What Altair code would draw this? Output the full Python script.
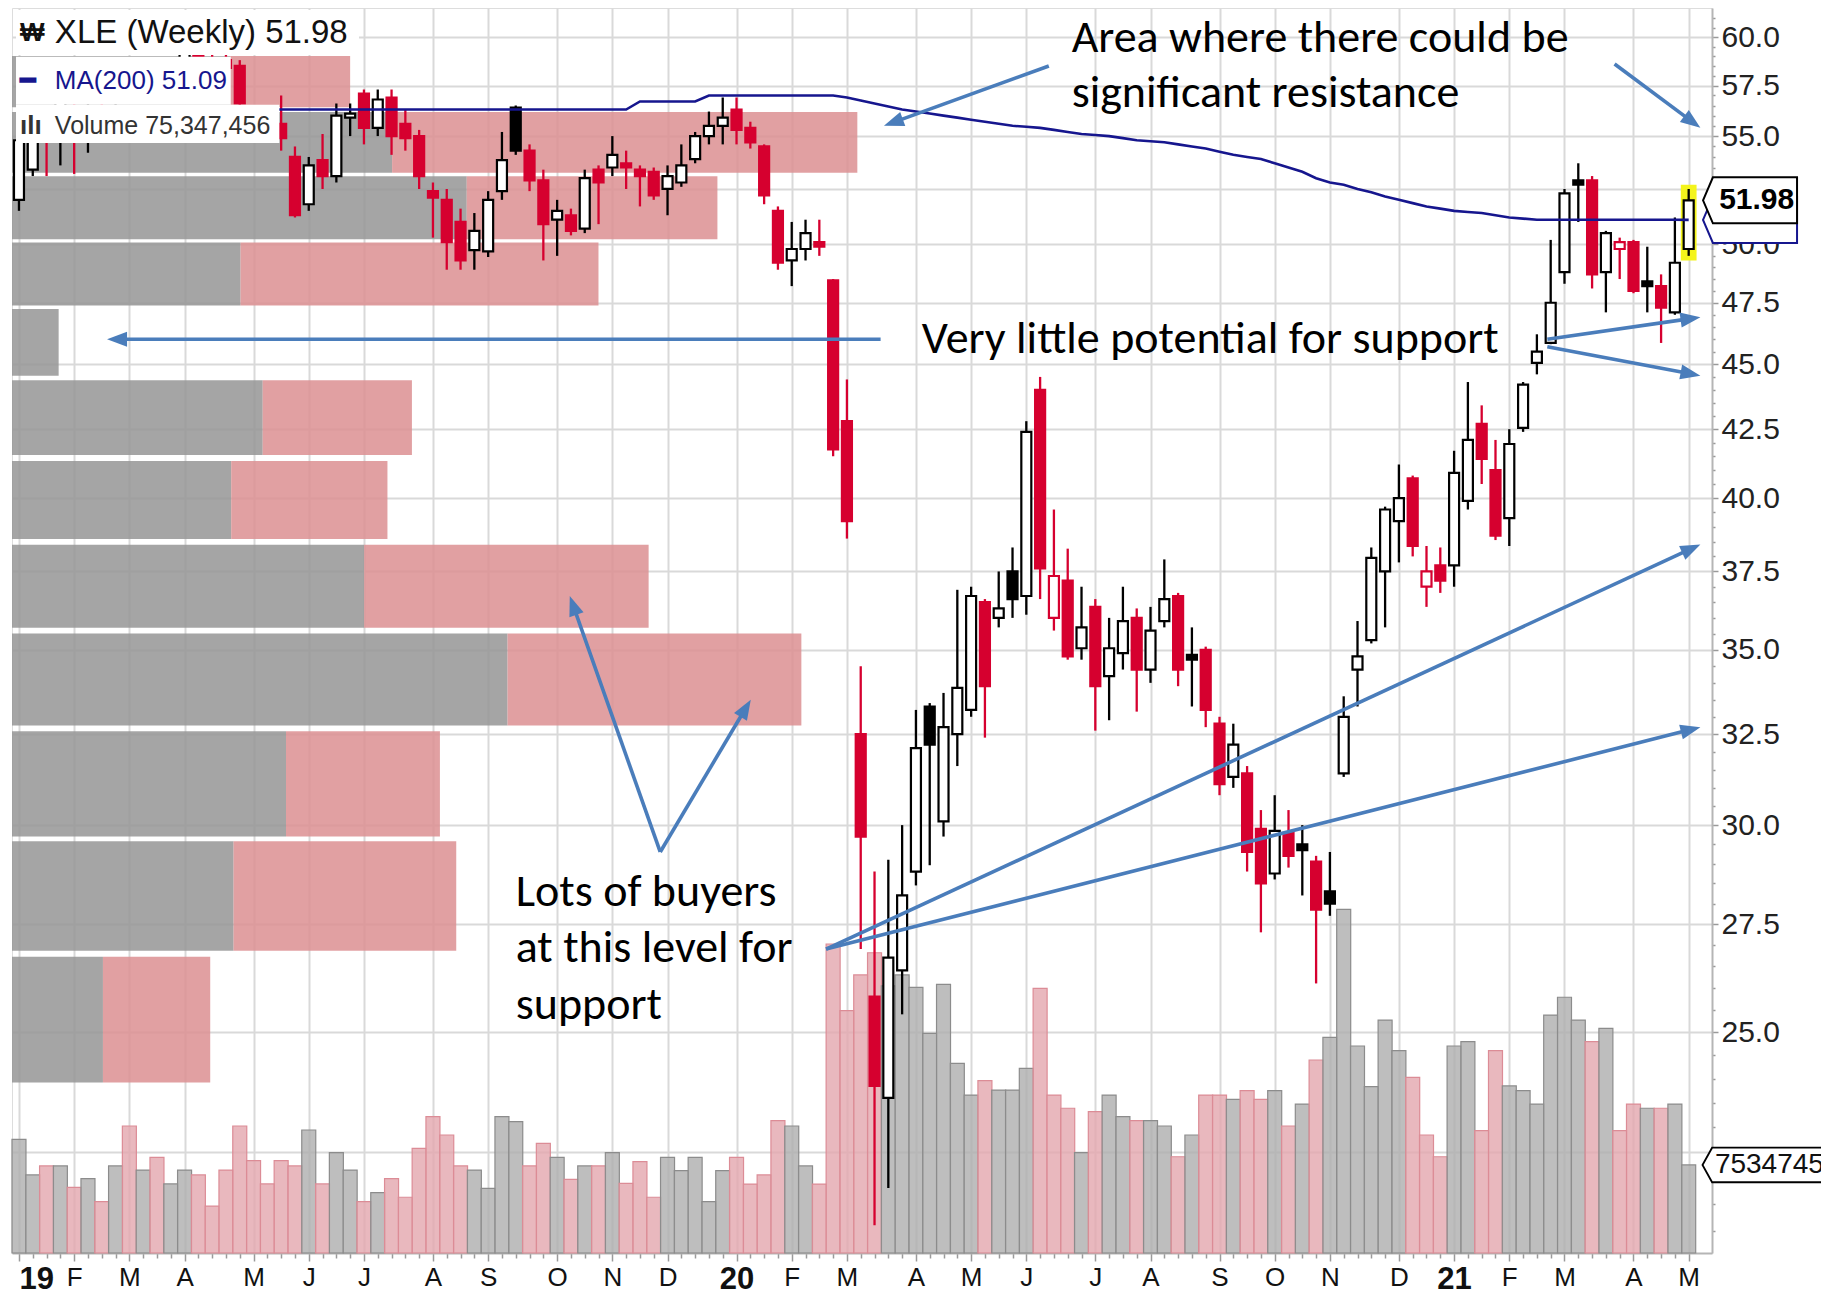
import math
import altair as alt
import pandas as pd

# ---------------- weekly XLE candles (week starting Monday) ----------------
FIRST_WEEK = "2019-01-07"
opens = [52.0, 53.4, 56.2, 55.4, 57.5, 56.8, 57.4, 56.9, 58.4, 57.2,
         58.0, 57.3, 58.4, 59.3, 58.9, 58.8, 58.5, 56.4, 55.6, 55.6,
         54.0, 51.8, 53.85, 53.1, 55.9, 57.1, 55.4, 56.9, 55.6, 55.0,
         52.4, 52.0, 51.0, 49.75, 49.7, 52.4, 56.4, 54.3, 52.9, 51.1,
         51.3, 50.7, 53.4, 53.5, 53.7, 53.4, 53.3, 52.5, 52.8, 53.9,
         55.0, 55.5, 56.3, 55.4, 54.5, 51.5, 49.3, 49.8, 50.1, 48.45,
         42.8, 32.5, 25.8, 23.6, 26.4, 28.8, 33.3, 30.1, 32.5, 33.2,
         36.5, 36.0, 37.5, 36.7, 44.0, 36.0, 37.2, 35.05, 36.35, 34.2,
         34.9, 36.0, 34.4, 35.9, 36.7, 34.85, 35.0, 32.8, 31.3, 31.4,
         29.9, 28.75, 29.8, 29.5, 29.05, 28.3, 31.4, 34.4, 35.3, 37.5,
         39.2, 40.7, 37.0, 37.7, 37.7, 39.9, 42.7, 41.0, 39.3, 42.55,
         45.05, 45.85, 48.8, 52.9, 52.9, 48.8, 49.8, 50.1, 48.4, 48.2,
         47.1, 49.8]
highs = [55.5, 56.0, 56.5, 57.8, 57.9, 57.9, 57.9, 58.3, 58.8, 58.2,
         58.5, 58.6, 59.5, 59.8, 59.6, 59.4, 58.8, 56.5, 56.3, 57.0,
         54.5, 54.0, 55.1, 56.6, 56.6, 57.3, 57.3, 57.3, 56.3, 55.3,
         52.8, 52.5, 51.6, 51.4, 52.4, 55.2, 56.5, 54.6, 53.4, 52.0,
         51.6, 53.4, 53.6, 55.0, 54.3, 53.6, 53.5, 53.6, 54.6, 55.2,
         56.2, 56.9, 56.9, 55.7, 54.6, 51.7, 51.0, 51.1, 51.1, 48.5,
         44.4, 34.5, 28.8, 29.1, 30.0, 33.2, 33.4, 33.7, 36.9, 37.0,
         36.6, 37.5, 38.3, 42.8, 44.5, 39.6, 38.26, 37.0, 36.6, 36.0,
         37.0, 36.3, 36.35, 37.9, 36.8, 35.7, 35.1, 33.0, 32.8, 31.6,
         30.4, 30.8, 30.4, 30.0, 29.2, 29.3, 33.6, 35.9, 38.3, 39.7,
         41.2, 40.8, 38.35, 38.3, 41.7, 44.3, 43.4, 42.1, 42.5, 44.3,
         46.2, 50.2, 52.5, 53.7, 53.1, 50.6, 50.3, 50.2, 49.9, 48.7,
         51.2, 52.5]
lows = [51.5, 53.1, 53.1, 53.6, 53.2, 54.2, 56.2, 56.5, 56.9, 56.8,
        56.9, 57.0, 58.0, 58.4, 58.3, 58.2, 56.4, 55.0, 54.8, 54.3,
        51.2, 51.5, 52.5, 52.8, 55.0, 54.6, 55.0, 54.1, 54.3, 52.5,
        50.3, 48.9, 48.9, 48.9, 49.45, 52.0, 54.1, 52.4, 49.3, 49.5,
        50.4, 50.5, 50.9, 53.1, 52.5, 51.7, 52.0, 51.3, 52.6, 53.7,
        54.6, 54.6, 54.6, 54.4, 51.8, 48.9, 48.2, 49.3, 49.5, 41.5,
        38.6, 26.9, 21.1, 21.8, 25.4, 28.45, 28.96, 29.7, 31.6, 33.0,
        32.4, 35.7, 36.0, 36.1, 36.6, 35.6, 34.7, 34.7, 32.6, 32.9,
        34.4, 33.15, 34.0, 35.7, 33.9, 33.3, 32.7, 30.8, 31.0, 28.8,
        27.3, 28.6, 28.9, 28.2, 26.1, 27.7, 31.3, 33.3, 35.2, 35.7,
        37.8, 38.0, 36.35, 36.8, 37.0, 39.6, 40.5, 38.55, 38.35, 42.4,
        44.6, 45.8, 48.3, 51.0, 48.1, 47.1, 48.5, 47.9, 47.1, 45.85,
        47.0, 49.5]
closes = [54.8, 55.7, 55.4, 57.3, 56.8, 57.4, 56.9, 58.0, 57.2, 57.9,
          57.3, 58.4, 59.3, 58.7, 58.5, 58.4, 56.6, 55.6, 55.3, 54.9,
          51.3, 53.6, 53.1, 56.0, 56.1, 55.4, 56.8, 55.0, 54.9, 53.1,
          52.1, 50.1, 49.3, 50.6, 52.0, 53.85, 54.3, 52.9, 50.9, 51.5,
          50.6, 53.0, 52.8, 54.1, 53.5, 53.1, 52.2, 53.1, 53.6, 55.0,
          55.5, 55.9, 55.3, 54.7, 52.2, 49.2, 49.8, 50.5, 49.9, 41.75,
          39.2, 29.7, 23.85, 26.7, 28.2, 32.1, 32.2, 32.7, 33.85, 36.7,
          33.9, 36.3, 36.6, 42.4, 37.6, 37.35, 34.8, 35.7, 33.9, 35.05,
          35.9, 34.4, 35.6, 36.6, 34.4, 34.7, 33.2, 31.1, 32.2, 29.3,
          28.5, 29.85, 29.2, 29.35, 27.85, 28.0, 33.0, 34.8, 37.95, 39.6,
          40.0, 38.35, 37.5, 37.2, 40.9, 42.1, 41.4, 38.7, 41.95, 44.2,
          45.5, 47.5, 52.3, 52.7, 48.7, 50.5, 50.1, 48.0, 48.2, 47.3,
          49.2, 51.98]
volumes_m = [97.3, 66.8, 74.5, 74.5, 56.2, 63.6, 43.9, 74.5, 108.7, 71.0,
             81.9, 59.1, 71.0, 66.8, 40.2, 71.0, 108.7, 79.0, 59.1, 79.0,
             74.5, 105.3, 59.1, 85.9, 71.0, 43.9, 51.6, 63.6, 47.7, 89.6,
             116.7, 101.0, 74.5, 71.0, 55.4, 116.7, 112.4, 74.5, 93.9, 81.9,
             63.1, 74.5, 74.5, 85.9, 59.6, 78.2, 47.7, 81.9, 70.5, 81.9,
             43.9, 70.5, 81.9, 59.0, 66.8, 113.3, 108.7, 74.5, 59.0, 264.5,
             207.4, 238.0, 257.0, 228.6, 238.0, 227.4, 188.0, 230.0, 162.4, 135.2,
             147.5, 139.5, 139.5, 158.0, 226.6, 135.2, 123.9, 85.9, 121.0, 135.2,
             116.7, 113.3, 113.3, 108.7, 82.4, 101.0, 135.2, 135.2, 131.5, 139.0,
             131.5, 139.0, 108.7, 127.5, 165.2, 184.6, 294.2, 177.2, 142.4, 199.4,
             173.2, 150.4, 101.0, 82.4, 177.2, 180.9, 104.7, 173.2, 143.0, 139.0,
             127.5, 203.7, 218.9, 199.4, 180.9, 192.3, 104.7, 127.5, 123.9, 123.9,
             127.5, 75.35]
ma200 = [56.3, 56.3, 56.3, 56.3, 56.3, 56.3, 56.3, 56.3, 56.3, 56.3,
         56.3, 56.3, 56.3, 56.3, 56.3, 56.3, 56.3, 56.3, 56.3, 56.3,
         56.3, 56.3, 56.3, 56.3, 56.3, 56.3, 56.3, 56.3, 56.3, 56.3,
         56.3, 56.3, 56.3, 56.3, 56.3, 56.3, 56.3, 56.3, 56.3, 56.3,
         56.3, 56.3, 56.3, 56.3, 56.3, 56.7, 56.7, 56.7, 56.7, 56.7,
         57.0, 57.0, 57.0, 57.0, 57.0, 57.0, 57.0, 57.0, 57.0, 57.0,
         56.9, 56.75, 56.6, 56.45, 56.3, 56.2, 56.1, 56.0, 55.9, 55.8,
         55.7, 55.6, 55.5, 55.45, 55.4, 55.3, 55.2, 55.1, 55.05, 55.0,
         54.9, 54.8, 54.75, 54.7, 54.6, 54.5, 54.4, 54.25, 54.1, 54.0,
         53.9, 53.7, 53.5, 53.3, 53.0, 52.8, 52.7, 52.5, 52.35, 52.15,
         52.0, 51.85, 51.7, 51.6, 51.5, 51.45, 51.4, 51.3, 51.2, 51.15,
         51.1, 51.1, 51.1, 51.1, 51.1, 51.1, 51.1, 51.1, 51.1, 51.1,
         51.1, 51.09]

# ---------------- volume-by-price bands ----------------
vbp_low = [56.41, 53.25, 50.23, 47.38, 44.55, 41.55, 38.59, 35.69, 32.75, 29.70, 26.86, 23.92]
vbp_high = [59.02, 56.18, 53.09, 50.08, 47.24, 44.37, 41.33, 38.39, 35.51, 32.58, 29.58, 26.72]
vbp_up = [374, 652, 780, 392, 80, 430, 376, 604, 850, 470, 380, 156]
vbp_down = [206, 798, 430, 614, 0, 256, 268, 488, 504, 264, 382, 184]

# ---------------- annotations (data coordinates) ----------------
arrow_x1 = ["2020-06-12T10:00", "2021-03-26T10:00", "2020-03-19T02:00", "2021-02-20T07:00",
            "2021-02-20T07:00", "2019-11-28T07:00", "2019-11-28T07:00", "2020-02-20T10:00",
            "2020-02-20T10:00"]
arrow_y1 = [58.5, 58.6, 46.0, 46.0, 45.7, 29.3, 29.3, 26.9, 26.9]
arrow_x2 = ["2020-03-20T19:00", "2021-05-08T22:00", "2019-02-20T17:00", "2021-05-08T22:00",
            "2021-05-08T22:00", "2019-10-13T10:00", "2020-01-13T05:00", "2021-05-08T22:00",
            "2021-05-08T22:00"]
arrow_y2 = [55.5, 55.4, 46.0, 46.9, 44.55, 36.7, 33.5, 38.4, 32.7]

note_text = ["Area where there could be", "significant resistance",
             "Very little potential for support",
             "Lots of buyers", "at this level for", "support"]
note_x = ["2020-06-24", "2020-06-24", "2020-04-09", "2019-09-16", "2019-09-16", "2019-09-16"]
note_y = [59.98, 57.13, 46.0, 28.28, 26.92, 25.60]

legend_text = ["XLE (Weekly) 51.98", "MA(200) 51.09", "Volume 75,347,456"]
legend_icon = ["\u20a9", "\u2501", "\u0131l\u0131"]
legend_y = [60.23, 57.73, 55.5]
legend_size = [33, 26, 25]
legend_bg_x2 = ["2019-06-28T12:00", "2019-04-24T10:00", "2019-05-19T02:00"]
legend_bg_lo = [59.07, 56.54, 54.67]
legend_bg_hi = [61.45, 58.97, 56.54]

last_close = 51.98
last_ma = 51.09
last_volume = 75.35
highlight_x = ["2021-04-29", "2021-05-07"]
highlight_y = [49.3, 52.7]

# ---------------- geometry / scales ----------------
W, H = 1700, 1245
X0 = pd.Timestamp("2019-01-06T00:00")
X1 = pd.Timestamp("2021-05-12T07:00")
PMIN, PMAX = 20.59, 61.56
VOLMAX = 1065.7
VBPMAX = 2916

RED = "#d6002f"
NAVY = "#16168e"
BLUE = "#4a7dbb"
SANS = "Liberation Sans, Arial, sans-serif"
NOTE_FONT = "Carlito, Lato, Calibri, sans-serif"


def dtm(ts):
    ts = pd.Timestamp(ts)
    return alt.DateTime(year=ts.year, month=ts.month, date=ts.day, hours=ts.hour, minutes=ts.minute)


LN = math.log(PMAX) - math.log(PMIN)


def px_x(ts):
    return (pd.Timestamp(ts).value - X0.value) / (X1.value - X0.value) * W


def px_y(p):
    return H * (math.log(PMAX) - math.log(p)) / LN


def inv_x(px):
    return pd.Timestamp(int(X0.value + px / W * (X1.value - X0.value))).round("s")


def inv_y(py):
    return math.exp(math.log(PMAX) - py / H * LN)


# ---------------- tables ----------------
dates = pd.date_range(FIRST_WEEK, periods=len(closes), freq="7D")
df = pd.DataFrame({"date": dates, "open": opens, "high": highs, "low": lows,
                   "close": closes, "volume": volumes_m, "ma": ma200})
prev = df["close"].shift(1)
df["down"] = (df["close"] < prev).fillna(False).astype(bool)
df["filled"] = df["close"] < df["open"]
df["body_lo"] = df[["open", "close"]].min(axis=1)
df["body_hi"] = df[["open", "close"]].max(axis=1)

vbp = pd.DataFrame({"lo": vbp_low, "hi": vbp_high, "up": vbp_up, "dn": vbp_down})
vbp["zero"] = 0
vbp["total"] = vbp["up"] + vbp["dn"]

shafts, heads = [], []
for xa, ya, xb, yb in zip(arrow_x1, arrow_y1, arrow_x2, arrow_y2):
    ax, ay, bx, by = px_x(xa), px_y(ya), px_x(xb), px_y(yb)
    ang = math.atan2(by - ay, bx - ax)
    r = 10
    cx, cy = bx - r * math.cos(ang), by - r * math.sin(ang)
    shafts.append({"date": pd.Timestamp(xa), "price": ya, "date2": inv_x(cx), "price2": inv_y(cy)})
    heads.append({"date": inv_x(cx), "price": inv_y(cy), "ang": math.degrees(ang) % 360})
shafts = pd.DataFrame(shafts)
heads = pd.DataFrame(heads)

notes = pd.DataFrame({"date": pd.to_datetime(note_x), "price": note_y, "text": note_text})

legend_bg = pd.DataFrame({"date": pd.Timestamp("2019-01-05T12:00"), "date2": pd.to_datetime(legend_bg_x2),
                          "lo": legend_bg_lo, "hi": legend_bg_hi})
legend_lab = pd.DataFrame({"date": pd.Timestamp("2019-01-25T05:00"), "price": legend_y,
                           "text": legend_text, "fs": legend_size,
                           "col": ["#111111", NAVY, "#333333"]})
legend_ic = pd.DataFrame({"date": pd.Timestamp("2019-01-07T12:00"), "price": legend_y,
                          "text": legend_icon, "col": ["#111111", NAVY, "#333333"]})

hl = pd.DataFrame({"date": [pd.Timestamp(highlight_x[0])], "date2": [pd.Timestamp(highlight_x[1])],
                   "lo": [highlight_y[0]], "hi": [highlight_y[1]]})

price_boxes = pd.DataFrame({"date": pd.Timestamp("2021-06-03T03:00"),
                            "price": [last_ma, last_close], "col": [NAVY, "#000000"]})
price_box_text = pd.DataFrame({"date": [pd.Timestamp("2021-06-06T12:00")], "price": [last_close],
                               "text": [f"{last_close:.2f}"]})
vol_box = pd.DataFrame({"date": [pd.Timestamp("2021-06-27T17:00")], "v": [last_volume]})
vol_box_text = pd.DataFrame({"date": [pd.Timestamp("2021-05-16T07:00")], "v": [last_volume],
                             "text": ["75347456"]})

# ---------------- axes ----------------
week_values = [dtm(d) for d in dates]
first_week_test = "date(datum.value) <= 7"
year_test = "month(datum.value) == 0 && date(datum.value) <= 7"
first_label_test = "year(datum.value) == 2019 && month(datum.value) == 0 && date(datum.value) <= 7"
x_axis = alt.Axis(
    values=week_values, title=None, labelOverlap=False, labelFlush=False,
    labelExpr=("date(datum.value) <= 7 ? (month(datum.value) == 0 ? timeFormat(datum.value, '%y')"
               " : slice(timeFormat(datum.value, '%b'), 0, 1)) : ''"),
    labelAlign={"condition": {"test": first_label_test, "value": "left"}, "value": "center"},
    labelFont=SANS, labelColor="#111111", labelPadding=3,
    labelFontSize={"condition": {"test": year_test, "value": 31}, "value": 26},
    labelFontWeight={"condition": {"test": year_test, "value": "bold"}, "value": "normal"},
    tickSize={"condition": {"test": first_week_test, "value": 8}, "value": 5},
    tickColor="#9a9a9a", tickWidth=1.5,
    grid=True, gridColor="#d9d9d9", gridWidth=2,
    gridOpacity={"condition": {"test": first_week_test, "value": 1}, "value": 0},
    domainColor="#b5b5b5", domainWidth=2,
)
y_values = [round(21.0 + 0.5 * k, 1) for k in range(81)]
major_test = "datum.value % 2.5 == 0"
y_axis = alt.Axis(
    orient="right", values=y_values, title=None, labelOverlap=False, labelFlush=False,
    labelExpr=("(datum.value % 2.5 == 0 && datum.value >= 24 && datum.value != 52.5)"
               " ? format(datum.value, '.1f') : ''"),
    labelFont=SANS, labelFontSize=30, labelColor="#222222", labelPadding=3,
    tickSize={"condition": {"test": major_test, "value": 6}, "value": 3},
    tickColor="#9a9a9a", tickWidth=1.5,
    grid=True, gridColor="#d9d9d9", gridWidth=2,
    gridOpacity={"condition": {"test": major_test, "value": 1}, "value": 0},
    domainColor="#b5b5b5", domainWidth=2,
)

XS = alt.Scale(domain=[dtm(X0), dtm(X1)])
PS = alt.Scale(type="log", domain=[PMIN, PMAX], nice=False)


def px(field):
    return alt.X(field, scale=XS, axis=x_axis)


def py(field):
    return alt.Y(field, scale=PS, axis=y_axis)


# ---------------- volume-by-price layer ----------------
vbp_scale_x = alt.Scale(domain=[0, VBPMAX])
vbp_gray = alt.Chart(vbp).mark_rect(color="#959595", opacity=0.85).encode(
    x=alt.X("zero:Q", scale=vbp_scale_x, axis=None), x2="up:Q",
    y=alt.Y("lo:Q", scale=PS, axis=None), y2="hi:Q")
vbp_red = alt.Chart(vbp).mark_rect(color="#dc8f92", opacity=0.85).encode(
    x=alt.X("up:Q", scale=vbp_scale_x, axis=None), x2="total:Q",
    y=alt.Y("lo:Q", scale=PS, axis=None), y2="hi:Q")
vbp_layer = alt.layer(vbp_gray, vbp_red)

# ---------------- volume layer ----------------
vol_scale = alt.Scale(domain=[0, VOLMAX], nice=False, zero=True)
vol_x = alt.X("date:T", scale=XS, axis=None)
vol_bars = alt.Chart(df).mark_bar(size=14, strokeWidth=1.2, fillOpacity=0.8).encode(
    x=vol_x,
    y=alt.Y("volume:Q", scale=vol_scale, axis=None),
    fill={"condition": {"test": "datum.down", "value": "#e4a6ae"}, "value": "#aeaeae"},
    stroke={"condition": {"test": "datum.down", "value": "#dc8c96"}, "value": "#8c8c8c"},
)
vol_box_mark = alt.Chart(vol_box).mark_point(
    shape="M -1 0 L -0.9 -0.18 L 1 -0.18 L 1 0.18 L -0.9 0.18 Z", size=36864,
    filled=True, fill="white", stroke="#000000", strokeWidth=1.8, opacity=1).encode(
    x=vol_x, y=alt.Y("v:Q", scale=vol_scale, axis=None))
vol_box_label = alt.Chart(vol_box_text).mark_text(
    align="left", baseline="middle", font=SANS, fontSize=28, color="#111111").encode(
    x=vol_x, y=alt.Y("v:Q", scale=vol_scale, axis=None), text="text:N")
vol_layer = alt.layer(vol_bars, vol_box_mark, vol_box_label)

# ---------------- price layer ----------------
highlight = alt.Chart(hl).mark_rect(color="#f4f41c").encode(
    x=px("date:T"), x2="date2:T", y=py("lo:Q"), y2="hi:Q")
wicks = alt.Chart(df).mark_rule(strokeWidth=2.3).encode(
    x=px("date:T"), y=py("low:Q"), y2="high:Q",
    color={"condition": {"test": "datum.down", "value": RED}, "value": "#000000"},
)
bodies = alt.Chart(df).mark_bar(size=10, strokeWidth=2.2).encode(
    x=px("date:T"), y=py("body_lo:Q"), y2="body_hi:Q",
    fill={"condition": [{"test": "datum.filled && datum.down", "value": RED},
                        {"test": "datum.filled", "value": "#000000"}], "value": "#ffffff"},
    stroke={"condition": {"test": "datum.down", "value": RED}, "value": "#000000"},
)
ma_line = alt.Chart(df).mark_line(color=NAVY, strokeWidth=2.6).encode(
    x=px("date:T"), y=py("ma:Q"))

leg_bg = alt.Chart(legend_bg).mark_rect(color="#ffffff").encode(
    x=px("date:T"), x2="date2:T", y=py("lo:Q"), y2="hi:Q")
leg_txt = alt.Chart(legend_lab).mark_text(align="left", baseline="middle", font=SANS).encode(
    x=px("date:T"), y=py("price:Q"), text="text:N",
    size=alt.Size("fs:Q", scale=None, legend=None),
    color=alt.Color("col:N", scale=None))
leg_ic = alt.Chart(legend_ic).mark_text(align="left", baseline="middle", font=SANS, fontSize=26,
                                        fontWeight="bold").encode(
    x=px("date:T"), y=py("price:Q"), text="text:N",
    color=alt.Color("col:N", scale=None))

arrow_lines = alt.Chart(shafts).mark_rule(color=BLUE, strokeWidth=3.6).encode(
    x=px("date:T"), x2="date2:T", y=py("price:Q"), y2="price2:Q")
arrow_heads = alt.Chart(heads).mark_point(
    shape="M 1 0 L -1 -0.75 L -1 0.75 Z", size=400, filled=True, color=BLUE, opacity=1).encode(
    x=px("date:T"), y=py("price:Q"), angle=alt.Angle("ang:Q", scale=None))
note_marks = alt.Chart(notes).mark_text(align="left", baseline="middle", font=NOTE_FONT,
                                        fontSize=46, color="#000000").encode(
    x=px("date:T"), y=py("price:Q"), text="text:N")

pbox = alt.Chart(price_boxes).mark_point(
    shape="M -1 0 L -0.79 -0.49 L 1 -0.49 L 1 0.49 L -0.79 0.49 Z", size=8836,
    filled=True, fill="white", strokeWidth=2, opacity=1).encode(
    x=px("date:T"), y=py("price:Q"),
    stroke=alt.Stroke("col:N", scale=None))
pbox_txt = alt.Chart(price_box_text).mark_text(
    align="center", baseline="middle", font=SANS, fontSize=30, fontWeight="bold", color="#000000").encode(
    x=px("date:T"), y=py("price:Q"), text="text:N")

price_layer = alt.layer(highlight, wicks, bodies, ma_line, leg_bg, leg_ic, leg_txt,
                        arrow_lines, arrow_heads, note_marks, pbox, pbox_txt)

chart = alt.layer(vbp_layer, vol_layer, price_layer).resolve_scale(
    x="independent", y="independent"
).properties(
    width=W, height=H,
    padding={"left": 4, "top": 0, "right": 109, "bottom": 44},
    autosize=alt.AutoSizeParams(type="none"),
).configure_view(stroke="#b5b5b5", strokeWidth=2).configure(background="white")

chart.save("out.html", embed_options={"renderer": "svg", "actions": False})
